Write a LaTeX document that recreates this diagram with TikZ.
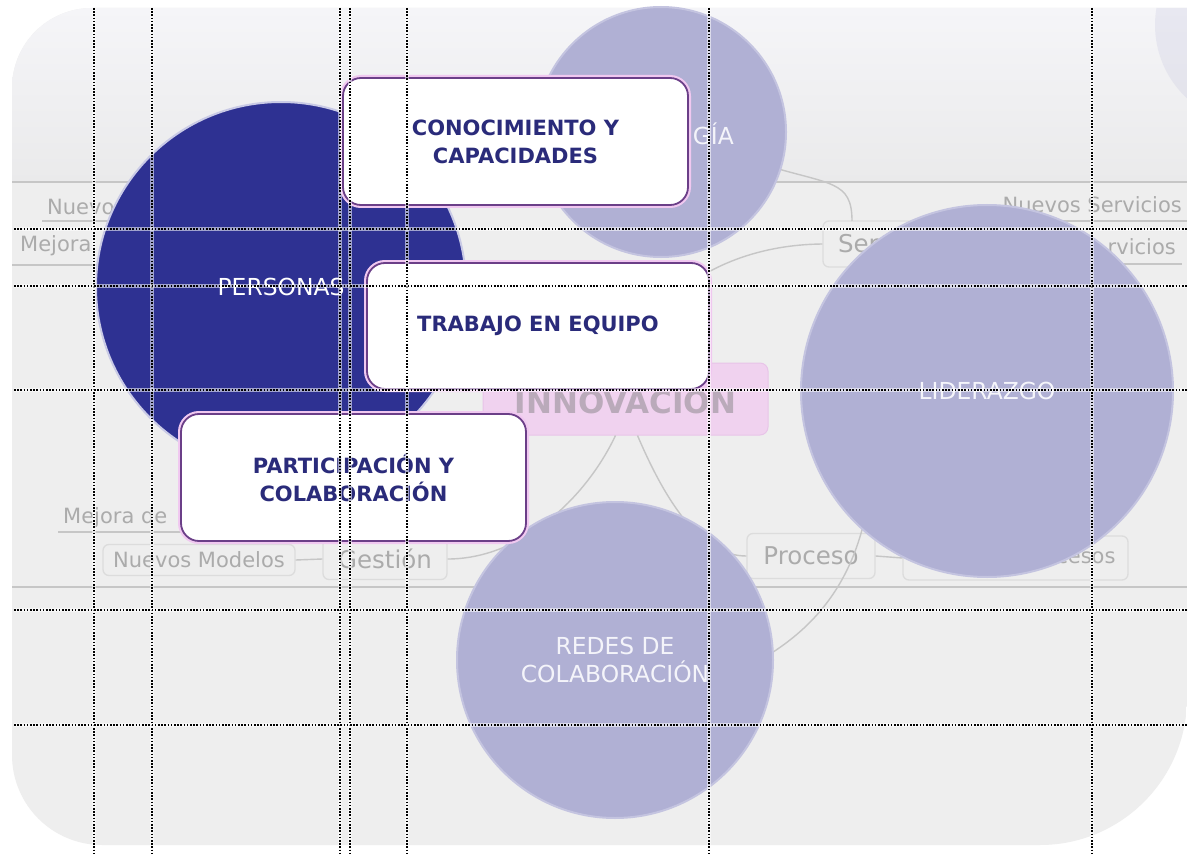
\documentclass[tikz,border=0pt]{standalone}
\usepackage{fontspec}
\setmainfont{DejaVu Sans}
\definecolor{navy}{HTML}{2E3192}
\definecolor{lav}{HTML}{B0B0D4}
\definecolor{lavrim}{HTML}{C4C4E0}
\definecolor{navyrim}{HTML}{C9CAE6}
\definecolor{boxtext}{HTML}{2A2B7A}
\definecolor{boxborder}{HTML}{6B3F88}
\definecolor{boxglow}{HTML}{F0C8F0}
\definecolor{panel}{HTML}{EEEEEE}
\definecolor{topc}{HTML}{F5F5F8}
\definecolor{topb}{HTML}{EAEAEB}
\definecolor{faint}{HTML}{ABABAB}
\definecolor{faintline}{HTML}{C6C6C6}
\definecolor{faintbox}{HTML}{DCDCDC}
\definecolor{innofill}{HTML}{F0D2EF}
\definecolor{innotext}{HTML}{BAAABA}
\definecolor{innoedge}{HTML}{E8C4E8}
\definecolor{circtext}{HTML}{F4F4FA}
\tikzset{
  circ/.style={circle, inner sep=0pt, align=center, text=circtext, font=\fontsize{23.4}{28}\selectfont},
  circlabel/.style={inner sep=0pt, text=circtext, font=\fontsize{23.4}{28}\selectfont},
  lavcirc/.style={circ, fill=lav, draw=lavrim, line width=2},
  keybox/.style={rounded corners=18, fill=white, draw=boxborder, line width=1.8, preaction={draw=boxglow, line width=6}, inner sep=0pt, align=center, text=boxtext, font=\bfseries\fontsize{21}{28}\selectfont},
  leaf/.style={inner sep=0pt, text=faint, font=\fontsize{21}{24}\selectfont},
  branch/.style={rounded corners=6, draw=faintbox, line width=1.3, inner sep=0pt, text=faint, font=\fontsize{24.5}{28}\selectfont},
  faintln/.style={draw=faintline, line width=1.4},
  gridhalo/.style={draw=white, opacity=.55, line width=3.5},
  gridln/.style={draw=black, line width=1.3, dash pattern=on 1.6pt off 1.6pt},
}
\def\panelpath{(12,88) -- (12,755) arc[start angle=180, end angle=90, radius=90] -- (1040,845) arc[start angle=90, end angle=0, radius=147] -- (1187,8) -- (92,8) arc[start angle=270, end angle=180, radius=80] -- cycle}
\begin{document}
\begin{tikzpicture}[x=1pt,y=-1pt]
\useasboundingbox (0,0) rectangle (1187,856);
\fill[white] (0,0) rectangle (1187,856);
% panel
\begin{scope}
  \clip \panelpath;
  \fill[panel] (0,0) rectangle (1187,856);
  \shade[top color=topc, bottom color=topb] (0,8) rectangle (1187,182);
  \fill[lav, opacity=.18] (1255,25) circle[radius=100];
\end{scope}
% faint mind map background
\draw[faintln] (12,182) -- (1187,182);
\draw[faintln] (12,587) -- (1187,587);
\node[leaf, anchor=west] (nuevoL) at (47,207) {Nuevo};
\node[leaf, anchor=west] (mejoraL) at (20,246) {Mejora};
\draw[faintln] (42,221) -- (120,221);
\draw[faintln] (12,265) -- (110,265);
\node[leaf, anchor=east] (nservR) at (1182,205) {Nuevos Servicios};
\node[leaf, anchor=east] (mservR) at (1176,247) {rvicios};
\draw[faintln] (1000,221) -- (1187,221);
\draw[faintln] (1000,264) -- (1182,264);
\node[branch, minimum height=46, text width=107, inner xsep=15, align=left] (servicio) at (891.5,244) {Ser};
\node[leaf, anchor=west] (mejoraB) at (63,518) {Mejora de};
\draw[faintln] (58,532) -- (185,532);
\node[branch, minimum width=192, minimum height=31, font=\fontsize{21}{24}\selectfont] (modelos) at (199,560) {Nuevos Modelos};
\node[branch, minimum width=124, minimum height=41] (gestion) at (385,559) {Gestión};
\node[branch, minimum width=128, minimum height=45] (proceso) at (811,556) {Proceso};
\node[branch, minimum width=225, minimum height=44, text width=200, inner xsep=12, align=right, font=\fontsize{21}{24}\selectfont] (procesos) at (1015.5,558) {cesos};
\draw[faintln] (modelos.east) -- (gestion.west);
\draw[faintln] (proceso.east) -- (procesos.west);
% INNOVACION
\node[rounded corners=8, fill=innofill, draw=innoedge, line width=1, minimum width=285, minimum height=72, inner sep=0pt, text=innotext, font=\bfseries\fontsize{31}{34}\selectfont] (innov) at (625.5,399) {INNOVACIÓN};
\draw[faintln] (gestion.east) .. controls (520,559) and (585,500) .. ([xshift=-10pt]innov.south);
\draw[faintln] ([xshift=12pt]innov.south) .. controls (665,500) and (700,556) .. (proceso.west);
\draw[faintln] (innov.north) .. controls (650,300) and (720,245) .. (servicio.west);
\coordinate (srvtop) at (852,221);
\draw[faintln] (765,165) .. controls (830,185) and (852,180) .. (srvtop);
\coordinate (liderlow) at (872,470);
\coordinate (redesright) at (760,660);
\draw[faintln] (liderlow) .. controls (865,560) and (830,620) .. (redesright);
% circles
\node[lavcirc, minimum size=250] (tecno) at (661,132) {};
\node[circlabel, anchor=east] (tecnotxt) at (734,134) {GÍA};
\node[lavcirc, minimum size=372] (lider) at (987,391) {LIDERAZGO};
\node[lavcirc, minimum size=316] (redes) at (615,660) {REDES DE\\COLABORACIÓN};
\node[circ, fill=navy, draw=navyrim, line width=2, minimum size=370, text=white] (personas) at (281,287) {PERSONAS};
% key boxes
\node[keybox, minimum width=345, minimum height=127] (conoc) at (515.5,141.5) {CONOCIMIENTO Y\\CAPACIDADES};
\node[keybox, minimum width=342, minimum height=126] (trabajo) at (538,326) {TRABAJO EN EQUIPO};
\node[keybox, minimum width=345, minimum height=127] (partic) at (353.5,477.5) {PARTICIPACIÓN Y\\COLABORACIÓN};
% grid
\foreach \gx in {94,152,340,350,407,709,1092} {
  \draw[gridhalo] (\gx,8) -- (\gx,856);
  \draw[gridln] (\gx,8) -- (\gx,856);
}
\foreach \gy in {229,286,390,610,725} {
  \draw[gridhalo] (14,\gy) -- (1187,\gy);
  \draw[gridln] (14,\gy) -- (1187,\gy);
}
\end{tikzpicture}
\end{document}
